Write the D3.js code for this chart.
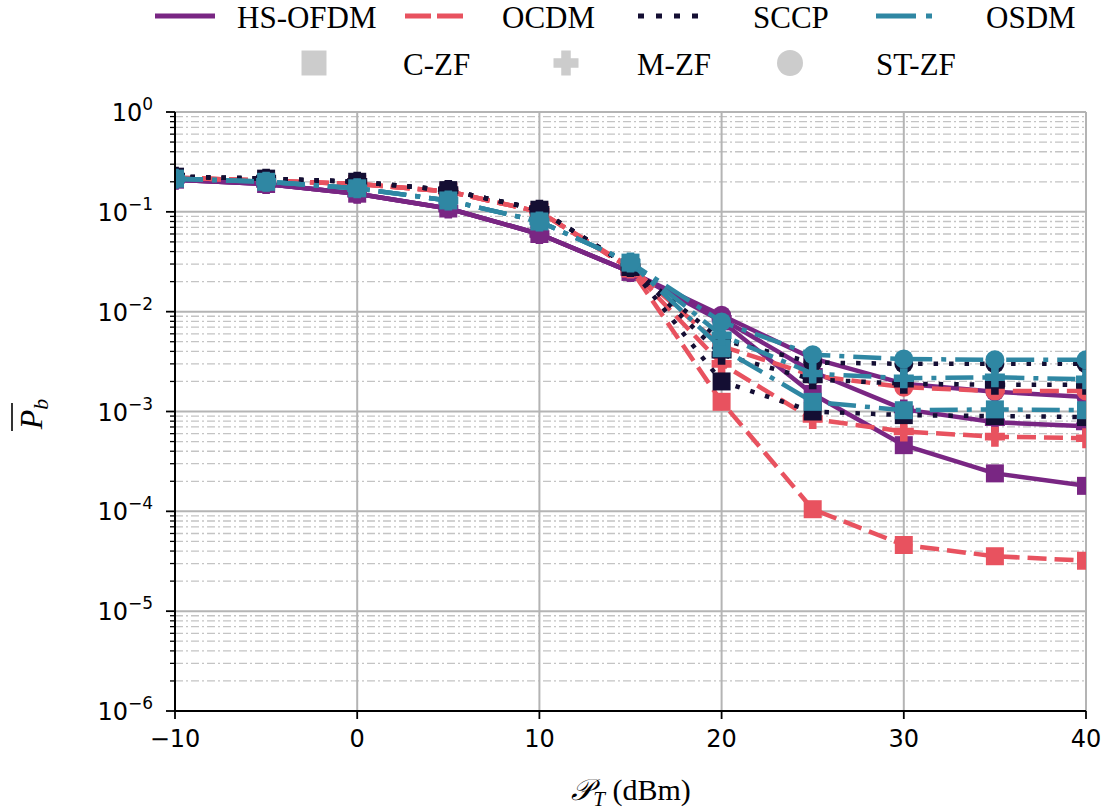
<!DOCTYPE html>
<html>
<head>
<meta charset="utf-8">
<script src="https://cdn.jsdelivr.net/npm/d3@7"></script>
<style>
  html, body { margin: 0; padding: 0; background: #fff; }
  svg { display: block; }
</style>
</head>
<body>
<svg id="chart" width="1112" height="811"></svg>
<script>
// Transmit power (dBm) sweep
const powerDbm = [-10, -5, 0, 5, 10, 15, 20, 25, 30, 35, 40];

// Average bit error probability per waveform / equalizer
const hsofdmCZF  = [0.21, 0.19, 0.152, 0.108, 0.060, 0.025, 8.0e-3, 1.5e-3, 4.6e-4, 2.4e-4, 1.8e-4];
const hsofdmMZF  = [0.21, 0.19, 0.152, 0.108, 0.060, 0.025, 8.5e-3, 2.5e-3, 1.05e-3, 7.8e-4, 7.1e-4];
const hsofdmSTZF = [0.21, 0.19, 0.152, 0.108, 0.060, 0.025, 9.2e-3, 3.4e-3, 1.9e-3, 1.58e-3, 1.4e-3];

const ocdmCZF  = [0.22, 0.205, 0.19, 0.16, 0.100, 0.027, 1.25e-3, 1.05e-4, 4.6e-5, 3.55e-5, 3.2e-5];
const ocdmMZF  = [0.22, 0.205, 0.19, 0.16, 0.100, 0.027, 3.0e-3, 8.4e-4, 6.3e-4, 5.6e-4, 5.4e-4];
const ocdmSTZF = [0.22, 0.205, 0.19, 0.16, 0.100, 0.028, 4.5e-3, 2.3e-3, 1.75e-3, 1.6e-3, 1.6e-3];

const sccpCZF  = [0.225, 0.215, 0.20, 0.165, 0.105, 0.028, 2.0e-3, 1.0e-3, 9.2e-4, 9.0e-4, 8.8e-4];
const sccpMZF  = [0.225, 0.215, 0.20, 0.165, 0.105, 0.028, 3.7e-3, 2.1e-3, 1.9e-3, 1.85e-3, 1.85e-3];
const sccpSTZF = [0.225, 0.215, 0.20, 0.165, 0.105, 0.028, 5.2e-3, 3.1e-3, 3.0e-3, 3.0e-3, 3.0e-3];

const osdmCZF  = [0.215, 0.20, 0.172, 0.13, 0.080, 0.031, 4.3e-3, 1.25e-3, 1.03e-3, 1.05e-3, 1.03e-3];
const osdmMZF  = [0.215, 0.20, 0.172, 0.13, 0.080, 0.031, 5.8e-3, 2.4e-3, 2.15e-3, 2.2e-3, 2.1e-3];
const osdmSTZF = [0.215, 0.20, 0.172, 0.13, 0.080, 0.031, 7.9e-3, 3.7e-3, 3.35e-3, 3.3e-3, 3.3e-3];

const waveformNames  = ["HS-OFDM", "OCDM", "SCCP", "OSDM"];
const equalizerNames = ["C-ZF", "M-ZF", "ST-ZF"];
const xTickValues = [-10, 0, 10, 20, 30, 40];
const yTickExponents = [0, -1, -2, -3, -4, -5, -6];

// Styling per waveform (line) and per equalizer (marker)
const waveformStyle = {
  "HS-OFDM": { color: "#792683", dash: null },
  "OCDM":    { color: "#e8525f", dash: "19,8" },
  "SCCP":    { color: "#140e33", dash: "4.5,11" },
  "OSDM":    { color: "#2f87a3", dash: "28,9,5,9" }
};
const equalizerMarker = { "C-ZF": "square", "M-ZF": "plus", "ST-ZF": "circle" };

const seriesValues = {
  "HS-OFDM": [hsofdmCZF, hsofdmMZF, hsofdmSTZF],
  "OCDM":    [ocdmCZF, ocdmMZF, ocdmSTZF],
  "SCCP":    [sccpCZF, sccpMZF, sccpSTZF],
  "OSDM":    [osdmCZF, osdmMZF, osdmSTZF]
};

const series = [];
waveformNames.forEach(w => {
  equalizerNames.forEach((e, i) => {
    series.push({
      waveform: w, equalizer: e,
      points: powerDbm.map((p, k) => ({ x: p, y: seriesValues[w][i][k] }))
    });
  });
});

const svg = d3.select("#chart");
const plot = { left: 175, right: 1086, top: 112, bottom: 711 };

const x = d3.scaleLinear().domain([-10, 40]).range([plot.left, plot.right]);
const y = d3.scaleLog().domain([1e-6, 1]).range([plot.bottom, plot.top]);

const tickFont = "'DejaVu Sans', sans-serif";
const serifFont = "'Liberation Serif', 'Times New Roman', serif";

// Grid: minor decades (dash-dot), then major lines
const minorVals = [];
for (let e = -6; e < 0; e++) for (let m = 2; m <= 9; m++) minorVals.push(m * Math.pow(10, e));

const grid = svg.append("g");
grid.selectAll("line.minor").data(minorVals).join("line")
  .attr("x1", plot.left).attr("x2", plot.right)
  .attr("y1", d => y(d)).attr("y2", d => y(d))
  .attr("stroke", "#c4c4c4").attr("stroke-width", 1.3)
  .attr("stroke-dasharray", "8,3,2,3");
grid.selectAll("line.hmajor").data(yTickExponents.map(e => Math.pow(10, e))).join("line")
  .attr("x1", plot.left).attr("x2", plot.right)
  .attr("y1", d => y(d)).attr("y2", d => y(d))
  .attr("stroke", "#b4b4b4").attr("stroke-width", 2);
grid.selectAll("line.vmajor").data(xTickValues).join("line")
  .attr("x1", d => x(d)).attr("x2", d => x(d))
  .attr("y1", plot.top).attr("y2", plot.bottom)
  .attr("stroke", "#b4b4b4").attr("stroke-width", 2);

// Clip data to the axes area
svg.append("defs").append("clipPath").attr("id", "plotClip")
  .append("rect").attr("x", plot.left).attr("y", plot.top - 20)
  .attr("width", plot.right - plot.left).attr("height", plot.bottom - plot.top + 20);

function markerPath(type, s) {
  const h = s / 2;
  if (type === "square") return `M${-h},${-h}H${h}V${h}H${-h}Z`;
  if (type === "plus") {
    const a = s * 0.19;
    return `M${-a},${-h}H${a}V${-a}H${h}V${a}H${a}V${h}H${-a}V${a}H${-h}V${-a}H${-a}Z`;
  }
  return d3.symbol(d3.symbolCircle, Math.PI * h * h)();
}
const markerSize = { square: 18, plus: 20, circle: 19 };

const line = d3.line().x(d => x(d.x)).y(d => y(d.y));
const dataLayer = svg.append("g").attr("clip-path", "url(#plotClip)");

series.forEach(s => {
  const st = waveformStyle[s.waveform];
  const mk = equalizerMarker[s.equalizer];
  const g = dataLayer.append("g");
  g.append("path").datum(s.points)
    .attr("d", line)
    .attr("fill", "none")
    .attr("stroke", st.color)
    .attr("stroke-width", 4.5)
    .attr("stroke-linejoin", "round")
    .attr("stroke-dasharray", st.dash);
  g.selectAll("path.mk").data(s.points).join("path")
    .attr("transform", d => `translate(${x(d.x)},${y(d.y)})`)
    .attr("d", markerPath(mk, markerSize[mk]))
    .attr("fill", st.color);
});

// Axes spines
const axes = svg.append("g").attr("stroke", "#000").attr("stroke-width", 2);
axes.append("line").attr("x1", plot.left).attr("x2", plot.left)
  .attr("y1", plot.top).attr("y2", plot.bottom + 1);
axes.append("line").attr("x1", plot.left - 1).attr("x2", plot.right)
  .attr("y1", plot.bottom).attr("y2", plot.bottom);

// X ticks
svg.append("g").selectAll("line").data(xTickValues).join("line")
  .attr("x1", d => x(d)).attr("x2", d => x(d))
  .attr("y1", plot.bottom).attr("y2", plot.bottom + 8)
  .attr("stroke", "#000").attr("stroke-width", 1.8);
svg.append("g").selectAll("text").data(xTickValues).join("text")
  .attr("x", d => x(d)).attr("y", plot.bottom + 36)
  .attr("text-anchor", "middle")
  .attr("font-family", tickFont).attr("font-size", 24)
  .text(d => d < 0 ? "\u2212" + Math.abs(d) : String(d));

// Y ticks (major + minor)
svg.append("g").selectAll("line").data(yTickExponents).join("line")
  .attr("x1", plot.left - 9).attr("x2", plot.left)
  .attr("y1", d => y(Math.pow(10, d))).attr("y2", d => y(Math.pow(10, d)))
  .attr("stroke", "#000").attr("stroke-width", 1.8);
svg.append("g").selectAll("line").data(minorVals).join("line")
  .attr("x1", plot.left - 5).attr("x2", plot.left)
  .attr("y1", d => y(d)).attr("y2", d => y(d))
  .attr("stroke", "#000").attr("stroke-width", 1.3);
const yLabels = svg.append("g").selectAll("text").data(yTickExponents).join("text")
  .attr("x", 153).attr("y", d => y(Math.pow(10, d)) + 9)
  .attr("text-anchor", "end")
  .attr("font-family", tickFont).attr("font-size", 24);
yLabels.append("tspan").text("10");
yLabels.append("tspan").attr("dy", -11).attr("font-size", 17)
  .text(d => d < 0 ? "\u2212" + Math.abs(d) : String(d));

// Axis titles
const xTitle = svg.append("text")
  .attr("x", 631).attr("y", 800)
  .attr("text-anchor", "middle")
  .attr("font-family", serifFont).attr("font-size", 30);
xTitle.append("tspan").attr("font-family", "'DejaVu Sans', 'Noto Sans', serif").attr("font-style", "italic").text("\u{1D4AB}");
xTitle.append("tspan").attr("dy", 6).attr("font-size", 21).attr("font-style", "italic").text("T");
xTitle.append("tspan").attr("dy", -6).text(" (dBm)");

const yTitle = svg.append("g").attr("transform", "translate(42,414) rotate(-90)");
const yt = yTitle.append("text").attr("x", 0).attr("y", 0)
  .attr("text-anchor", "middle")
  .attr("font-family", serifFont).attr("font-size", 32).attr("font-style", "italic");
yt.append("tspan").text("P");
yt.append("tspan").attr("dy", 6).attr("font-size", 22).text("b");
yTitle.append("line")
  .attr("x1", -17).attr("x2", 11).attr("y1", -30).attr("y2", -30)
  .attr("stroke", "#000").attr("stroke-width", 1.6);

// Legend: waveforms (line styles) and equalizers (markers)
const legend = svg.append("g");
const lineHandleX = [155, 405, 638, 876];
const lineTextX = [237, 502, 753, 986];
waveformNames.forEach((w, i) => {
  const st = waveformStyle[w];
  legend.append("line")
    .attr("x1", lineHandleX[i]).attr("x2", lineHandleX[i] + 60)
    .attr("y1", 16).attr("y2", 16)
    .attr("stroke", st.color).attr("stroke-width", 5)
    .attr("stroke-dasharray", w === "OCDM" ? "26,6" : w === "SCCP" ? "6,12" : w === "OSDM" ? "40,10,6,10" : null);
  legend.append("text")
    .attr("x", lineTextX[i]).attr("y", 28)
    .attr("font-family", serifFont).attr("font-size", 31)
    .text(w);
});
const markHandleX = [314, 566, 790];
const markTextX = [403, 637, 876];
equalizerNames.forEach((e, i) => {
  const mk = equalizerMarker[e];
  legend.append("path")
    .attr("transform", `translate(${markHandleX[i]},63)`)
    .attr("d", markerPath(mk, mk === "circle" ? 26 : 25))
    .attr("fill", "#cccccc");
  legend.append("text")
    .attr("x", markTextX[i]).attr("y", 75)
    .attr("font-family", serifFont).attr("font-size", 31)
    .text(e);
});
</script>
</body>
</html>
